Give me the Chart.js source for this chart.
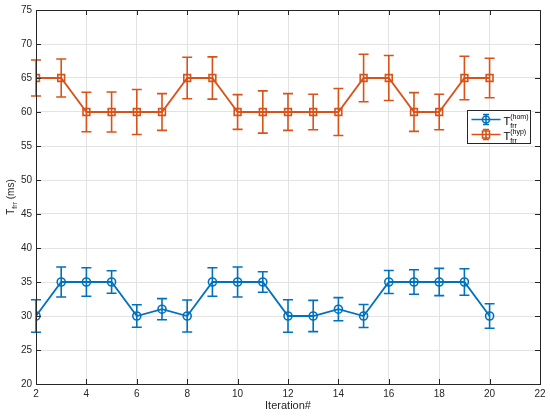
<!DOCTYPE html>
<html>
<head>
<meta charset="utf-8">
<script src="https://cdn.jsdelivr.net/npm/chart.js@4.4.1/dist/chart.umd.min.js"></script>
<style>
html,body{margin:0;padding:0;background:#fff;}
canvas{display:block;}
</style>
</head>
<body>
<canvas id="c" width="550" height="416"></canvas>
<script>
const iterations = [2,3,4,5,6,7,8,9,10,11,12,13,14,15,16,17,18,19,20];
const homValues = [30,35,35,35,30,31,30,35,35,35,30,30,31,30,35,35,35,35,30];
const homErr    = [2.4,2.2,2.1,1.65,1.65,1.55,2.35,2.1,2.2,1.5,2.4,2.3,1.7,1.7,1.7,1.8,2.0,1.95,1.8];
const hypValues = [65,65,60,60,60,60,65,65,60,60,60,60,60,65,65,60,60,65,65];
const hypErr    = [2.65,2.8,2.9,2.95,3.3,2.7,3.05,3.1,2.55,3.1,2.7,2.6,3.45,3.5,3.3,2.85,2.6,3.2,2.9];
const xTicks = [2,4,6,8,10,12,14,16,18,20,22];
const yTicks = [20,25,30,35,40,45,50,55,60,65,70,75];
const seriesNames = [{main:'T', sup:'(hom)', sub:'frr'}, {main:'T', sup:'(hyp)', sub:'frr'}];
const xTitle = 'Iteration#';
const yTitle = {main:'T', sub:'frr', rest:' (ms)'};

const BLUE = '#0072BD', ORANGE = '#D95319', AX = '#262626';
const FONT = '"Liberation Sans", Arial, sans-serif';

function pts(vals){ return iterations.map((x,i)=>({x:x,y:vals[i]})); }

const errs = [homErr, hypErr];

const plugin = {
  id:'matlabStyle',
  afterDatasetsDraw(chart){
    const ctx = chart.ctx, xs = chart.scales.x, ys = chart.scales.y;
    chart.data.datasets.forEach((ds,di)=>{
      const e = errs[di];
      ctx.save();
      ctx.strokeStyle = ds.borderColor; ctx.lineWidth = 1.6;
      ds.data.forEach((p,i)=>{
        const px = xs.getPixelForValue(p.x);
        const yt = ys.getPixelForValue(p.y + e[i]);
        const yb = ys.getPixelForValue(p.y - e[i]);
        ctx.beginPath();
        ctx.moveTo(px,yt); ctx.lineTo(px,yb);
        ctx.moveTo(px-5,yt); ctx.lineTo(px+5,yt);
        ctx.moveTo(px-5,yb); ctx.lineTo(px+5,yb);
        ctx.stroke();
      });
      ctx.restore();
    });
  },
  afterDraw(chart){
    const ctx = chart.ctx, a = chart.chartArea, xs = chart.scales.x, ys = chart.scales.y;
    ctx.save();
    // box
    ctx.strokeStyle = AX; ctx.lineWidth = 1;
    ctx.strokeRect(Math.round(a.left)+0.5, Math.round(a.top)+0.5, Math.round(a.right-a.left), Math.round(a.bottom-a.top));
    // inward ticks
    ctx.beginPath();
    xTicks.forEach(t=>{
      const px = Math.round(xs.getPixelForValue(t))+0.5;
      ctx.moveTo(px,a.bottom); ctx.lineTo(px,a.bottom-5);
      ctx.moveTo(px,a.top); ctx.lineTo(px,a.top+5);
    });
    yTicks.forEach(t=>{
      const py = Math.round(ys.getPixelForValue(t))+0.5;
      ctx.moveTo(a.left,py); ctx.lineTo(a.left+5,py);
      ctx.moveTo(a.right,py); ctx.lineTo(a.right-5,py);
    });
    ctx.stroke();
    // x title
    ctx.fillStyle = AX;
    ctx.font = '11px ' + FONT;
    ctx.textAlign = 'center'; ctx.textBaseline = 'middle';
    ctx.fillText(xTitle, (a.left+a.right)/2, 406);
    // y title rotated
    ctx.save();
    ctx.translate(10, (a.top+a.bottom)/2);
    ctx.rotate(-Math.PI/2);
    ctx.textBaseline = 'alphabetic';
    ctx.font = '10px ' + FONT;
    const w1 = ctx.measureText(yTitle.main).width;
    ctx.font = '7px ' + FONT;
    const w2 = ctx.measureText(yTitle.sub).width;
    ctx.font = '10px ' + FONT;
    const w3 = ctx.measureText(yTitle.rest).width;
    let sx = -(w1+w2+w3)/2;
    ctx.textAlign = 'left';
    ctx.fillText(yTitle.main, sx, 4); sx += w1;
    ctx.font = '7px ' + FONT;
    ctx.fillText(yTitle.sub, sx, 7); sx += w2;
    ctx.font = '10px ' + FONT;
    ctx.fillText(yTitle.rest, sx, 4);
    ctx.restore();
    // legend
    const bx = 467.5, by = 110.5, bw = 63, bh = 33;
    ctx.fillStyle = '#fff';
    ctx.fillRect(bx,by,bw,bh);
    ctx.strokeStyle = AX; ctx.lineWidth = 1;
    ctx.strokeRect(bx,by,bw,bh);
    chart.data.datasets.forEach((ds,di)=>{
      const cy = by + 9 + di*15;
      ctx.strokeStyle = ds.borderColor; ctx.lineWidth = 1.6;
      ctx.beginPath();
      ctx.moveTo(bx+4,cy); ctx.lineTo(bx+33,cy);
      ctx.moveTo(bx+18.5,cy-5); ctx.lineTo(bx+18.5,cy+5);
      ctx.moveTo(bx+15.5,cy-5); ctx.lineTo(bx+21.5,cy-5);
      ctx.moveTo(bx+15.5,cy+5); ctx.lineTo(bx+21.5,cy+5);
      ctx.stroke();
      ctx.beginPath();
      if (di===0) { ctx.arc(bx+18.5,cy,3.5,0,Math.PI*2); }
      else { ctx.rect(bx+15,cy-3.5,7,7); }
      ctx.stroke();
      const n = seriesNames[di];
      ctx.fillStyle = '#000';
      ctx.textAlign = 'left'; ctx.textBaseline = 'alphabetic';
      ctx.font = '11px ' + FONT;
      ctx.fillText(n.main, bx+36, cy+5);
      const tw = ctx.measureText(n.main).width;
      ctx.font = '7px ' + FONT;
      ctx.fillText(n.sup, bx+36+tw, cy-1);
      ctx.fillText(n.sub, bx+36+tw, cy+8);
    });
    ctx.restore();
  }
};

new Chart(document.getElementById('c'), {
  type:'line',
  data:{
    datasets:[
      {label:'T(hom) frr', data:pts(homValues), borderColor:BLUE, backgroundColor:'rgba(0,0,0,0)',
       borderWidth:1.8, pointStyle:'circle', pointRadius:4, pointBorderWidth:1.6,
       pointBackgroundColor:'rgba(0,0,0,0)', pointBorderColor:BLUE, tension:0},
      {label:'T(hyp) frr', data:pts(hypValues), borderColor:ORANGE, backgroundColor:'rgba(0,0,0,0)',
       borderWidth:1.8, pointStyle:'rect', pointRadius:4.8, pointBorderWidth:1.6,
       pointBackgroundColor:'rgba(0,0,0,0)', pointBorderColor:ORANGE, tension:0}
    ]
  },
  options:{
    responsive:false, animation:false, devicePixelRatio:1,
    layout:{padding:{top:8,right:10,left:0,bottom:0}},
    plugins:{legend:{display:false}, tooltip:{enabled:false}},
    scales:{
      x:{type:'linear', min:2, max:22,
         afterBuildTicks(s){ s.ticks = xTicks.map(v=>({value:v})); },
         afterFit(s){ s.height = 32; },
         ticks:{color:AX, font:{size:10, family:FONT}, padding:4, maxRotation:0},
         grid:{color:'#e3e3e3', drawTicks:false},
         border:{color:AX}},
      y:{type:'linear', min:20, max:75,
         afterBuildTicks(s){ s.ticks = yTicks.map(v=>({value:v})); },
         afterFit(s){ s.width = 36; },
         ticks:{color:AX, font:{size:10, family:FONT}, padding:4},
         grid:{color:'#e3e3e3', drawTicks:false},
         border:{color:AX}}
    }
  },
  plugins:[plugin]
});
</script>
</body>
</html>
